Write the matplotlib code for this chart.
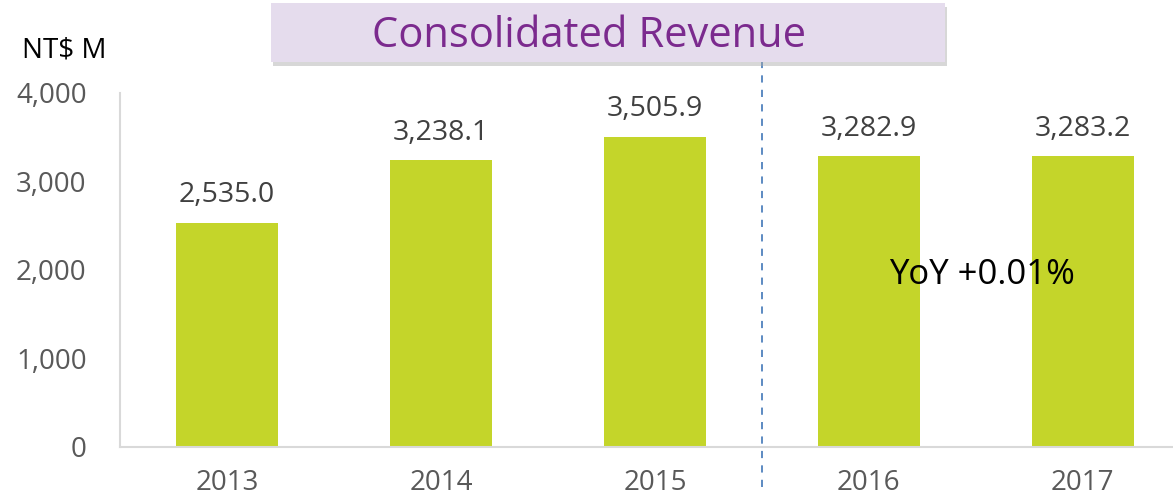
import matplotlib.pyplot as plt
from matplotlib.patches import Rectangle

# data
years = ["2013", "2014", "2015", "2016", "2017"]
revenue = [2535.0, 3238.1, 3505.9, 3282.9, 3283.2]
value_labels = ["2,535.0", "3,238.1", "3,505.9", "3,282.9", "3,283.2"]
yticks = [0, 1000, 2000, 3000, 4000]
ytick_labels = ["0", "1,000", "2,000", "3,000", "4,000"]

plt.rcParams["font.family"] = ["Open Sans", "DejaVu Sans"]

fig = plt.figure(figsize=(11.73, 5.01), dpi=100)
ax = fig.add_axes([0.1023, 0.1078, 0.912, 0.7066])

x = list(range(len(years)))
ax.bar(x, revenue, width=0.477, color="#C4D52A", zorder=2)

for xi, v, lab in zip(x, revenue, value_labels):
    ax.annotate(lab, (xi, v), textcoords="offset points", xytext=(0, 10),
                ha="center", va="bottom", fontsize=20.5, color="#404040")

ax.set_xlim(-0.5, len(years) - 0.5)
ax.set_ylim(0, 4000)
ax.set_xticks(x)
ax.set_xticklabels(years, fontsize=20, color="#595959")
ax.set_yticks(yticks)
ax.set_yticklabels(ytick_labels, fontsize=20, color="#595959")
ax.tick_params(length=0)
ax.tick_params(axis="x", pad=16)
ax.tick_params(axis="y", pad=24)

for s in ["top", "right"]:
    ax.spines[s].set_visible(False)
for s in ["left", "bottom"]:
    ax.spines[s].set_color("#D9D9D9")
    ax.spines[s].set_linewidth(1.5)

# divider between earlier years and recent years
ax.axvline(2.5, ymin=-0.113, ymax=1.09, color="#4F81BD", linestyle=(0, (4, 4)),
           linewidth=1.3, clip_on=False, zorder=1)

ax.text(3.53, 1945, "YoY +0.01%", fontsize=25, color="black", ha="center",
        va="center", zorder=3)

fig.text(0.019, 0.90, "NT$ M", fontsize=20, color="black", ha="left", va="center")

# title box with soft shadow
fig.patches.append(Rectangle((0.2325, 0.868), 0.5746, 0.118, transform=fig.transFigure,
                             facecolor="#A8A8A8", edgecolor="none", alpha=0.45, zorder=5))
fig.patches.append(Rectangle((0.231, 0.876), 0.5746, 0.118, transform=fig.transFigure,
                             facecolor="#E5DCED", edgecolor="none", zorder=6))
fig.text(0.502, 0.929, "Consolidated Revenue", fontsize=30, color="#7B2A8E",
         ha="center", va="center", zorder=7)

fig.savefig("out.png", dpi=100)
